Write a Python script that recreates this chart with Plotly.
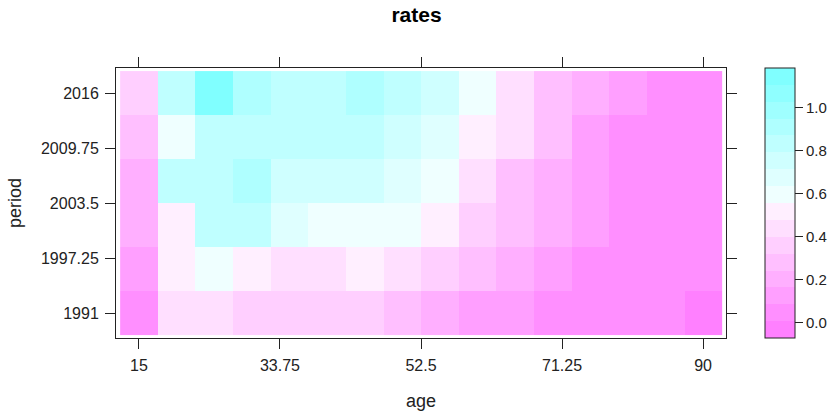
import plotly.graph_objects as go

# ---- data ----
ages = [15, 20, 25, 30, 35, 40, 45, 50, 55, 60, 65, 70, 75, 80, 85, 90]
periods = [1991, 1996, 2001, 2006, 2011, 2016]

rate_1991 = [0.05, 0.44, 0.43, 0.37, 0.36, 0.36, 0.35, 0.29, 0.21, 0.13, 0.12, 0.06, 0.05, 0.04, 0.03, -0.04]
rate_1996 = [0.13, 0.52, 0.59, 0.51, 0.45, 0.44, 0.50, 0.43, 0.36, 0.28, 0.20, 0.12, 0.06, 0.05, 0.04, 0.03]
rate_2001 = [0.20, 0.52, 0.83, 0.84, 0.68, 0.60, 0.61, 0.60, 0.52, 0.36, 0.28, 0.20, 0.12, 0.06, 0.05, 0.04]
rate_2006 = [0.21, 0.84, 0.83, 0.90, 0.76, 0.75, 0.76, 0.67, 0.60, 0.44, 0.28, 0.21, 0.13, 0.06, 0.05, 0.04]
rate_2011 = [0.28, 0.60, 0.84, 0.83, 0.82, 0.83, 0.84, 0.76, 0.68, 0.52, 0.44, 0.29, 0.13, 0.06, 0.05, 0.05]
rate_2016 = [0.37, 0.83, 1.15, 0.91, 0.83, 0.84, 0.91, 0.84, 0.76, 0.60, 0.44, 0.28, 0.21, 0.13, 0.06, 0.05]

x_tickvals = [15, 33.75, 52.5, 71.25, 90]
x_ticktext = ["15", "33.75", "52.5", "71.25", "90"]
y_tickvals = [1991, 1997.25, 2003.5, 2009.75, 2016]
y_ticktext = ["1991", "1997.25", "2003.5", "2009.75", "2016"]
cbar_tickvals = [0.0, 0.2, 0.4, 0.6, 0.8, 1.0]
cbar_ticktext = ["0.0", "0.2", "0.4", "0.6", "0.8", "1.0"]

z_min, z_max = -0.07, 1.186
n_bins = 16

z = [rate_1991, rate_1996, rate_2001, rate_2006, rate_2011, rate_2016]

# ---- palette: rev(cm.colors(16)) as in R ----
sats = [0.5, 0.4375, 0.375, 0.3125, 0.25, 0.1875, 0.125, 0.0625]
pal = []
for s in sats:  # magenta side (low)
    g = round(255 * (1 - s))
    pal.append(f"rgb(255,{g},255)")
for s in reversed(sats):  # cyan side (high)
    r = round(255 * (1 - s))
    pal.append(f"rgb({r},255,255)")

colorscale = []
for k, c in enumerate(pal):
    colorscale.append([k / n_bins, c])
    colorscale.append([(k + 1) / n_bins, c])

FONT = "Liberation Sans, Arial, sans-serif"
INK = "#222222"

fig = go.Figure(
    go.Heatmap(
        x=ages,
        y=periods,
        z=z,
        zmin=z_min,
        zmax=z_max,
        colorscale=colorscale,
        colorbar=dict(
            thickness=30,
            len=1.0,
            lenmode="fraction",
            y=0.5,
            yanchor="middle",
            x=(765 - 116) / 610,
            xanchor="left",
            xpad=0,
            ypad=0,
            outlinecolor=INK,
            outlinewidth=1,
            ticks="outside",
            ticklen=8,
            tickcolor=INK,
            tickvals=cbar_tickvals,
            ticktext=cbar_ticktext,
            tickfont=dict(family=FONT, size=15, color=INK),
        ),
        hoverongaps=False,
    )
)

axis_common = dict(
    showline=True,
    linecolor=INK,
    linewidth=1,
    mirror="ticks",
    ticks="outside",
    ticklen=10,
    tickcolor=INK,
    showgrid=False,
    zeroline=False,
    automargin=False,
    tickfont=dict(family=FONT, size=16, color=INK),
)

fig.update_layout(
    width=833,
    height=414,
    margin=dict(l=116, r=107, t=68, b=76, autoexpand=False),
    paper_bgcolor="white",
    plot_bgcolor="white",
    title=dict(
        text="<b>rates</b>",
        x=0.5,
        xref="container",
        xanchor="center",
        y=1 - 15 / 414,
        yref="container",
        yanchor="middle",
        font=dict(family=FONT, size=21, color="black"),
        automargin=False,
    ),
    xaxis=dict(
        range=[11.95, 93.05],
        tickvals=x_tickvals,
        ticktext=x_ticktext,
        ticklabelstandoff=3,
        **axis_common,
    ),
    yaxis=dict(
        range=[1988.2, 2018.85],
        tickvals=y_tickvals,
        ticktext=y_ticktext,
        ticklabelstandoff=3,
        **axis_common,
    ),
    annotations=[
        dict(
            text="age",
            xref="paper",
            yref="paper",
            x=0.5,
            y=(338 - 401) / 270,
            xanchor="center",
            yanchor="middle",
            showarrow=False,
            font=dict(family=FONT, size=18, color=INK),
        ),
        dict(
            text="period",
            xref="paper",
            yref="paper",
            x=(15 - 116) / 610,
            y=0.5,
            xanchor="center",
            yanchor="middle",
            textangle=-90,
            showarrow=False,
            font=dict(family=FONT, size=18, color=INK),
        ),
    ],
)

fig.write_html(
    "out.html",
    config={"displayModeBar": False},
    post_script="document.body.style.margin='0';document.body.style.padding='0';",
)
